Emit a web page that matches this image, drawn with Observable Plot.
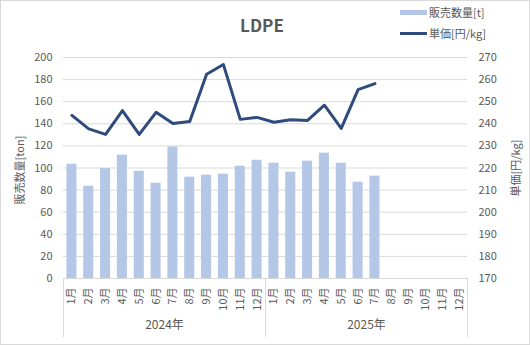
<!DOCTYPE html>
<html>
<head>
<meta charset="utf-8">
<script src="https://cdn.jsdelivr.net/npm/d3@7"></script>
<script src="https://cdn.jsdelivr.net/npm/@observablehq/plot@0.6"></script>
<style>
  body { margin: 0; background: #fff; }
  #chart { position: relative; width: 530px; height: 345px; font-family: "Noto Sans CJK JP", "Noto Sans", sans-serif; color: #595959; }
  #chart svg { position: absolute; left: 0; top: 0; }
  #border { position: absolute; left: 0; top: 0; width: 528px; height: 343px; border: 1px solid #d9d9d9; pointer-events: none; }
  #title { position: absolute; left: 0; width: 524px; top: 12px; text-align: center; font-size: 17px; font-weight: bold; color: #595959; line-height: 26px; }
  .leg { position: absolute; left: 400px; font-size: 11px; color: #595959; display: flex; align-items: center; line-height: 14px; }
  .sw { width: 27px; margin-right: 2px; }
</style>
</head>
<body>
<div id="chart">
  <div id="title">LDPE</div>
  <div class="leg" id="leg1" style="top:5px"><span class="sw" style="height:5px;background:#b4c7e7"></span><span>販売数量[t]</span></div>
  <div class="leg" id="leg2" style="top:26px"><span class="sw" style="height:3px;background:#2f4b7c"></span><span>単価[円/kg]</span></div>
  <div id="border"></div>
</div>
<script>
const months = ["1月","2月","3月","4月","5月","6月","7月","8月","9月","10月","11月","12月"];
const years = ["2024年","2025年"];
const qty = [103.4, 83.5, 99.5, 111.6, 97.0, 86.2, 119.0, 91.7, 93.5, 94.4, 101.6, 107.0,
             104.3, 96.2, 106.2, 113.4, 104.3, 87.1, 92.6];
const price = [243.8, 237.7, 235.2, 246.0, 235.2, 245.2, 240.1, 241.0, 262.4, 266.8, 242.0, 242.9,
               240.7, 241.8, 241.5, 248.4, 237.9, 255.5, 258.2];
const leftTicks = [0, 20, 40, 60, 80, 100, 120, 140, 160, 180, 200];
const rightTicks = [170, 180, 190, 200, 210, 220, 230, 240, 250, 260, 270];
const leftLabel = "販売数量[ton]";
const rightLabel = "単価[円/kg]";

// map right axis (170-270) onto left axis (0-200)
const toLeft = p => (p - 170) * 2;
const fromLeft = v => v / 2 + 170;

const cats = [];
years.forEach((y, yi) => months.forEach((m, mi) => cats.push({i: yi * 12 + mi, month: m, year: y})));
const barData = qty.map((q, i) => ({i, qty: q}));
const lineData = price.map((p, i) => ({i, price: p}));
const yearData = years.map((y, yi) => ({y, x: yi * 12 + 6}));
const bounds = [0, 12, 24];

const grey = "#d9d9d9";
const textCol = "#595959";

const plot = Plot.plot({
  width: 530,
  height: 345,
  marginLeft: 63,
  marginRight: 63,
  marginTop: 57,
  marginBottom: 67,
  style: {fontFamily: '"Noto Sans CJK JP", "Noto Sans", sans-serif', fontSize: "11px", color: textCol, background: "transparent"},
  x: {type: "linear", domain: [0, 24], axis: null},
  y: {domain: [0, 200], axis: null},
  marks: [
    Plot.gridY(leftTicks.slice(1), {stroke: grey, strokeOpacity: 1}),
    Plot.ruleY([0], {stroke: grey}),
    Plot.rectY(barData, {x: "i", interval: 1, y: "qty", insetLeft: 3.4, insetRight: 3.4, fill: "#b4c7e7"}),
    Plot.line(lineData, {x: d => d.i + 0.5, y: d => toLeft(d.price), stroke: "#2f4b7c", strokeWidth: 3, strokeLinejoin: "round", strokeLinecap: "round"}),
    Plot.axisY(leftTicks, {anchor: "left", tickSize: 0, tickPadding: 11, fill: textCol, label: null}),
    Plot.axisY(rightTicks.map(toLeft), {anchor: "right", tickSize: 0, tickPadding: 11, tickFormat: v => fromLeft(v), fill: textCol, label: null}),
    Plot.axisX(bounds, {anchor: "bottom", tickSize: 59, tickFormat: () => "", stroke: grey, label: null}),
    Plot.text(cats, {x: d => d.i + 0.5, text: "month", rotate: -90, textAnchor: "end", lineAnchor: "middle", frameAnchor: "bottom", dy: 9, fill: textCol}),
    Plot.text(yearData, {x: "x", text: "y", frameAnchor: "bottom", dy: 50, fill: textCol, fontSize: 12}),
    Plot.text([leftLabel], {frameAnchor: "left", rotate: -90, textAnchor: "middle", lineAnchor: "middle", dx: -43, dy: 2, fill: textCol}),
    Plot.text([rightLabel], {frameAnchor: "right", rotate: -90, textAnchor: "middle", lineAnchor: "middle", dx: 49, fill: textCol})
  ]
});
document.getElementById("chart").insertBefore(plot, document.getElementById("title"));
</script>
</body>
</html>
